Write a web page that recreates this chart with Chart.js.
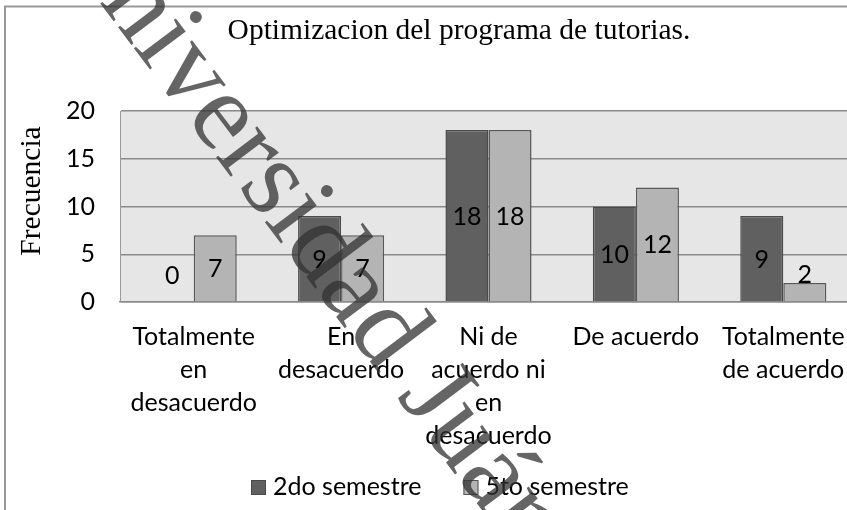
<!DOCTYPE html>
<html><head><meta charset="utf-8">
<script src="https://cdn.jsdelivr.net/npm/chart.js@4/dist/chart.umd.min.js"></script>
<style>html,body{margin:0;padding:0;overflow:hidden;background:#fff;width:847px;height:510px}
#wrap{position:absolute;left:0;top:0;width:940px;height:540px}</style></head>
<body><div id="wrap"><canvas id="c" width="940" height="540"></canvas></div>
<script>
const categories = [["Totalmente","en","desacuerdo"],["En","desacuerdo"],["Ni de","acuerdo ni","en","desacuerdo"],"De acuerdo",["Totalmente","de acuerdo"]];
const seriesNames = ["2do semestre","5to semestre"];
const values2do = [0,9,18,10,9];
const values5to = [7,7,18,12,2];
const yTicks = [0,5,10,15,20];
const chartTitle = "Optimizacion del programa de tutorias.";
const yAxisTitle = "Frecuencia";
const watermark = "Universidad Juárez Autónoma de Tabasco";

const SANS = "Lato";
const SERIF = "'Liberation Serif'";
const FS = 25;

const deco = {
  id:'deco',
  beforeDraw(chart){
    const {ctx, chartArea:a} = chart;
    ctx.save();
    ctx.fillStyle = '#e6e6e6';
    ctx.fillRect(a.left, a.top, a.right-a.left, a.bottom-a.top);
    ctx.restore();
  },
  afterDatasetsDraw(chart){
    const ctx = chart.ctx;
    ctx.save();
    ctx.font = FS + 'px ' + SANS;
    ctx.fillStyle = '#000';
    ctx.textAlign = 'center';
    ctx.textBaseline = 'middle';
    chart.data.datasets.forEach((ds, di) => {
      chart.getDatasetMeta(di).data.forEach((el, i) => {
        const y = Math.min((el.y + el.base)/2 + 1, el.base - 26);
        ctx.fillText(String(ds.data[i]), el.x, y);
      });
    });
    ctx.restore();
  },
  afterDraw(chart){
    const ctx = chart.ctx;
    ctx.save();
    // frame
    ctx.strokeStyle = '#999';
    ctx.lineWidth = 2;
    ctx.beginPath();
    ctx.moveTo(5, 600); ctx.lineTo(5, 6.5); ctx.lineTo(1000, 6.5);
    ctx.stroke();
    // title
    ctx.fillStyle = '#000';
    ctx.font = '29.5px ' + SERIF;
    ctx.textAlign = 'center';
    ctx.textBaseline = 'alphabetic';
    ctx.fillText(chartTitle, 459, 39);
    // y axis title
    ctx.save();
    ctx.translate(32, 191);
    ctx.rotate(-Math.PI/2);
    ctx.textBaseline = 'middle';
    ctx.fillText(yAxisTitle, 0, 0);
    ctx.restore();
    // legend
    ctx.font = FS + 'px ' + SANS;
    ctx.textAlign = 'left';
    ctx.textBaseline = 'middle';
    let x = 251;
    chart.data.datasets.forEach((ds) => {
      ctx.fillStyle = ds.backgroundColor;
      ctx.fillRect(x, 480, 15, 15);
      ctx.strokeStyle = ds.borderColor;
      ctx.lineWidth = 1;
      ctx.strokeRect(x+0.5, 480.5, 14, 14);
      ctx.fillStyle = '#000';
      ctx.fillText(ds.label, x + 22, 487);
      x += 22 + ctx.measureText(ds.label).width + 42;
    });
    // watermark
    ctx.translate(50, -63);
    ctx.rotate(53*Math.PI/180);
    ctx.font = '112px ' + SERIF;
    ctx.fillStyle = 'rgba(50,50,50,0.75)';
    ctx.textAlign = 'left';
    ctx.textBaseline = 'alphabetic';
    ctx.fillText(watermark, 0, 0);
    ctx.restore();
  }
};

new Chart(document.getElementById('c'), {
  type: 'bar',
  data: {
    labels: categories,
    datasets: [
      {label: seriesNames[0], data: values2do, backgroundColor:'#606060', borderColor:'#4a4a4a', borderWidth:1.5, categoryPercentage:0.584, barPercentage:1},
      {label: seriesNames[1], data: values5to, backgroundColor:'#b4b4b4', borderColor:'#585858', borderWidth:1.5, categoryPercentage:0.584, barPercentage:1}
    ]
  },
  options: {
    responsive:false, animation:false, devicePixelRatio:1,
    layout:{padding:{left:0, top:111, right:83, bottom:0}},
    plugins:{legend:{display:false}, title:{display:false}, tooltip:{enabled:false}},
    scales:{
      x:{
        grid:{display:false, drawTicks:false},
        border:{display:true, color:'#8a8a8a', width:1.5},
        ticks:{font:{family:SANS, size:FS, lineHeight:1.32}, color:'#000', padding:18, maxRotation:0, autoSkip:false},
        afterFit(s){ s.height = 540 - 302; }
      },
      y:{
        min:0, max:20,
        afterBuildTicks(s){ s.ticks = yTicks.map(v => ({value:v})); },
        ticks:{font:{family:SANS, size:FS}, color:'#000', padding:25},
        grid:{color:'#8a8a8a', lineWidth:1.5, drawTicks:false},
        border:{display:true, color:'#9a9a9a', width:1},
        afterFit(s){ s.width = 120; }
      }
    }
  },
  plugins:[deco]
});
</script></body></html>
